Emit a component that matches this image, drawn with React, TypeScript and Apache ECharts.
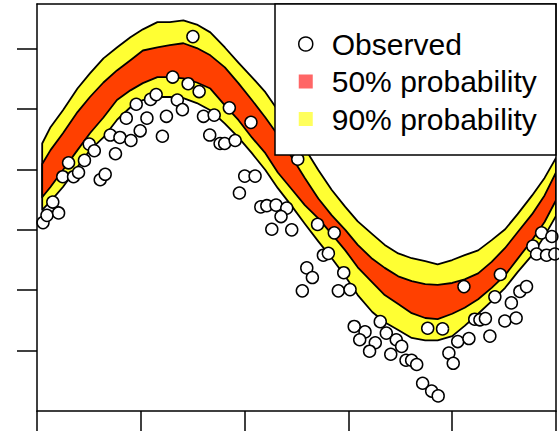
import React, { useEffect, useRef } from 'react';
import * as echarts from 'echarts';

// x positions of the interval curves
const bandX = [5, 13, 25, 39, 51, 64, 77, 90, 102, 116, 128, 141, 154, 167, 181, 194, 207, 220, 232, 246, 258, 271, 284, 297, 309, 323, 335, 348, 361, 374, 386, 400, 412, 425, 438, 451, 463, 477, 489, 500];
const upper90 = [34.3, 37.0, 39.8, 43.4, 45.9, 48.4, 50.2, 51.9, 53.2, 54.4, 54.4, 54.7, 54.0, 52.7, 50.2, 47.7, 45.3, 42.8, 39.8, 36.8, 33.5, 29.9, 26.6, 23.8, 21.4, 19.3, 17.5, 16.1, 15.3, 14.8, 14.3, 15.0, 15.8, 16.6, 18.3, 20.1, 22.6, 25.7, 28.6, 31.9];
const upper50 = [30.9, 33.2, 36.0, 39.5, 42.0, 44.4, 46.4, 48.1, 49.7, 50.2, 50.6, 50.9, 50.1, 48.9, 46.9, 44.3, 41.5, 38.6, 35.7, 31.9, 28.6, 25.2, 22.4, 20.0, 17.5, 15.2, 13.7, 12.3, 11.5, 11.0, 10.9, 11.2, 11.8, 12.8, 14.7, 17.0, 19.6, 22.6, 25.7, 29.5];
const lower50 = [25.4, 27.1, 29.9, 33.2, 36.0, 38.6, 41.5, 43.1, 44.3, 45.3, 45.3, 45.1, 44.4, 43.4, 40.6, 38.2, 35.3, 32.7, 29.5, 26.6, 24.1, 21.9, 19.3, 16.6, 13.8, 11.3, 9.2, 7.7, 6.2, 5.4, 5.2, 6.1, 7.1, 8.5, 10.4, 12.5, 15.2, 18.3, 21.3, 24.9];
const lower90 = [23.3, 24.7, 27.1, 30.4, 33.2, 35.3, 38.2, 40.3, 41.5, 42.0, 42.0, 41.8, 41.0, 39.8, 37.6, 35.3, 32.7, 29.9, 26.9, 23.8, 21.0, 18.1, 15.3, 12.3, 9.2, 6.4, 4.7, 3.4, 2.1, 1.7, 1.7, 2.4, 4.1, 6.1, 8.2, 10.4, 13.0, 15.8, 19.0, 22.3];

// observed points
const obsX = [5.8, 9.6, 20.8, 15.2, 24.8, 35.2, 30.4, 40.0, 45.7, 50.3,
  55.2, 60.9, 65.7, 70.6, 75.6, 79.9, 86.0, 90.5, 95.6, 99.4,
  105.9, 109.4, 114.8, 120.8, 124.7, 130.7, 135.2, 140.1, 145.6, 150.2,
  156.2, 160.4, 166.4, 170.7, 176.4, 180.8, 185.3, 190.9, 195.0, 200.1,
  206.1, 210.1, 215.6, 221.4, 230.3, 240.6, 235.1, 226.2, 245.4, 251.2,
  270.3, 286.4, 275.9, 280.7, 259.9, 265.3, 255.6, 295.5, 290.3, 301.6,
  330.7, 305.6, 316.0, 310.9, 325.9, 320.4, 336.5, 340.8, 346.1, 351.3,
  355.5, 360.9, 365.8, 371.5, 380.2, 386.5, 376.4, 390.7, 411.3, 446.4,
  441.1, 396.8, 401.0, 405.3, 416.1, 421.7, 426.7, 432.0, 436.3, 450.7,
  461.6, 457.0, 465.2, 471.6, 486.1, 496.0, 477.7, 481.3, 490.9, 498.9];
const obsY = [21.2, 22.4, 22.8, 24.6, 28.8, 28.8, 31.1, 29.5, 31.5, 34.2,
  33.1, 28.3, 29.2, 35.7, 32.6, 35.3, 38.5, 34.8, 40.8, 36.4,
  38.5, 41.6, 42.4, 35.5, 38.8, 45.3, 41.5, 39.9, 44.2, 52.0,
  42.9, 38.8, 35.7, 39.0, 34.3, 34.3, 40.2, 34.8, 26.1, 28.9,
  37.8, 28.9, 23.8, 24.0, 24.1, 23.6, 22.2, 20.1, 20.0, 31.7,
  20.9, 19.5, 15.8, 16.1, 13.7, 12.1, 9.9, 12.9, 9.9, 10.1,
  4.8, 4.0, 3.1, 1.8, 1.3, -0.1, 2.9, -0.6, 1.8, 0.7,
  -1.6, -1.6, -2.3, -5.4, -6.7, -7.5, 3.7, 3.6, 10.6, 12.6,
  8.9, -0.4, -2.1, 1.5, 2.0, 5.2, 5.1, 5.3, 2.4, 4.9,
  5.4, 7.9, 9.8, 10.6, 19.5, 18.9, 17.3, 16.0, 15.8, 16.0];

const yTicks = [0, 10, 20, 30, 40, 50];
const legendNames = ['Observed', '50% probability', '90% probability'];

const RED_BAND = '#FF4000';
const RED_KEY = '#FF4040';
const YELLOW = '#FFFF33';
const FONT = '"Liberation Sans", Arial, Helvetica, sans-serif';

export default function App() {
  const ref = useRef<HTMLDivElement>(null);
  useEffect(() => {
    if (!ref.current) return;
    const chart = echarts.init(ref.current, null, { renderer: 'svg' });
    const black = { color: '#000', width: 1.5 };

    // one closed polygon per interval (upper curve forward, lower curve backward)
    const bandSeries = (name: string, lo: number[], hi: number[], fill: string, z: number) => ({
      type: 'custom', name, silent: true, z, clip: true,
      data: bandX.map((x, i) => [x, lo[i], hi[i]]),
      encode: { x: 0, y: [1, 2] },
      renderItem: (params: any, api: any) => {
        if (params.dataIndex !== 0) return null;
        const pts: number[][] = [];
        for (let i = 0; i < bandX.length; i++) pts.push(api.coord([bandX[i], hi[i]]));
        for (let i = bandX.length - 1; i >= 0; i--) pts.push(api.coord([bandX[i], lo[i]]));
        return {
          type: 'polygon',
          shape: { points: pts },
          style: { fill, stroke: '#000', lineWidth: 1.8, lineJoin: 'round' },
        };
      },
    });

    const option: any = {
      animation: false,
      backgroundColor: '#fff',
      grid: { left: 37, right: 3, top: 4, bottom: 21, containLabel: false },
      xAxis: [
        {
          type: 'value', min: 0, max: 500, interval: 100, position: 'bottom', z: 10,
          axisLine: { show: true, onZero: false, lineStyle: black },
          axisTick: { show: true, inside: false, length: 20, lineStyle: black },
          axisLabel: { show: false }, splitLine: { show: false },
        },
        {
          type: 'value', min: 0, max: 500, position: 'top', z: 10,
          axisLine: { show: true, onZero: false, lineStyle: black },
          axisTick: { show: false }, axisLabel: { show: false }, splitLine: { show: false },
        },
      ],
      yAxis: [
        {
          type: 'value', min: -10, max: 57.4, position: 'left', z: 10,
          axisLine: { show: true, onZero: false, lineStyle: black },
          axisTick: { show: true, inside: false, length: 20, lineStyle: black, customValues: yTicks },
          axisLabel: { show: false }, splitLine: { show: false },
        },
        {
          type: 'value', min: -10, max: 57.4, position: 'right', z: 10,
          axisLine: { show: true, onZero: false, lineStyle: black },
          axisTick: { show: false }, axisLabel: { show: false }, splitLine: { show: false },
        },
      ],
      legend: {
        orient: 'vertical', left: 275, top: 4,
        data: [
          { name: legendNames[0], icon: 'circle', itemStyle: { color: '#fff', borderColor: '#000', borderWidth: 1.5 } },
          { name: legendNames[1], icon: 'rect', itemStyle: { color: RED_KEY, borderWidth: 0 } },
          { name: legendNames[2], icon: 'rect', itemStyle: { color: YELLOW, borderWidth: 0 } },
        ],
        itemWidth: 14, itemHeight: 14, itemGap: 7.5,
        padding: [25, 19, 21, 23],
        backgroundColor: '#fff', borderColor: '#000', borderWidth: 1.5, borderRadius: 0,
        textStyle: { fontSize: 30, fontFamily: FONT, color: '#000', lineHeight: 30, padding: [0, 0, 0, 14] },
        selectedMode: false, z: 20,
      },
      series: [
        bandSeries('90% interval', lower90, upper90, YELLOW, 1),
        bandSeries('50% interval', lower50, upper50, RED_BAND, 2),
        {
          name: legendNames[0], type: 'scatter', data: obsX.map((x, i) => [x, obsY[i]]),
          symbol: 'circle', symbolSize: 12, z: 6,
          itemStyle: { color: '#fff', borderColor: '#000', borderWidth: 1.5, opacity: 1 },
        },
        { name: legendNames[1], type: 'scatter', data: [], itemStyle: { color: RED_KEY } },
        { name: legendNames[2], type: 'scatter', data: [], itemStyle: { color: YELLOW } },
      ],
    };
    chart.setOption(option);
    return () => chart.dispose();
  }, []);
  return (
    <div
      ref={ref}
      style={{ position: 'absolute', left: 0, top: 0, width: 559, height: 432, background: '#fff' }}
    />
  );
}
